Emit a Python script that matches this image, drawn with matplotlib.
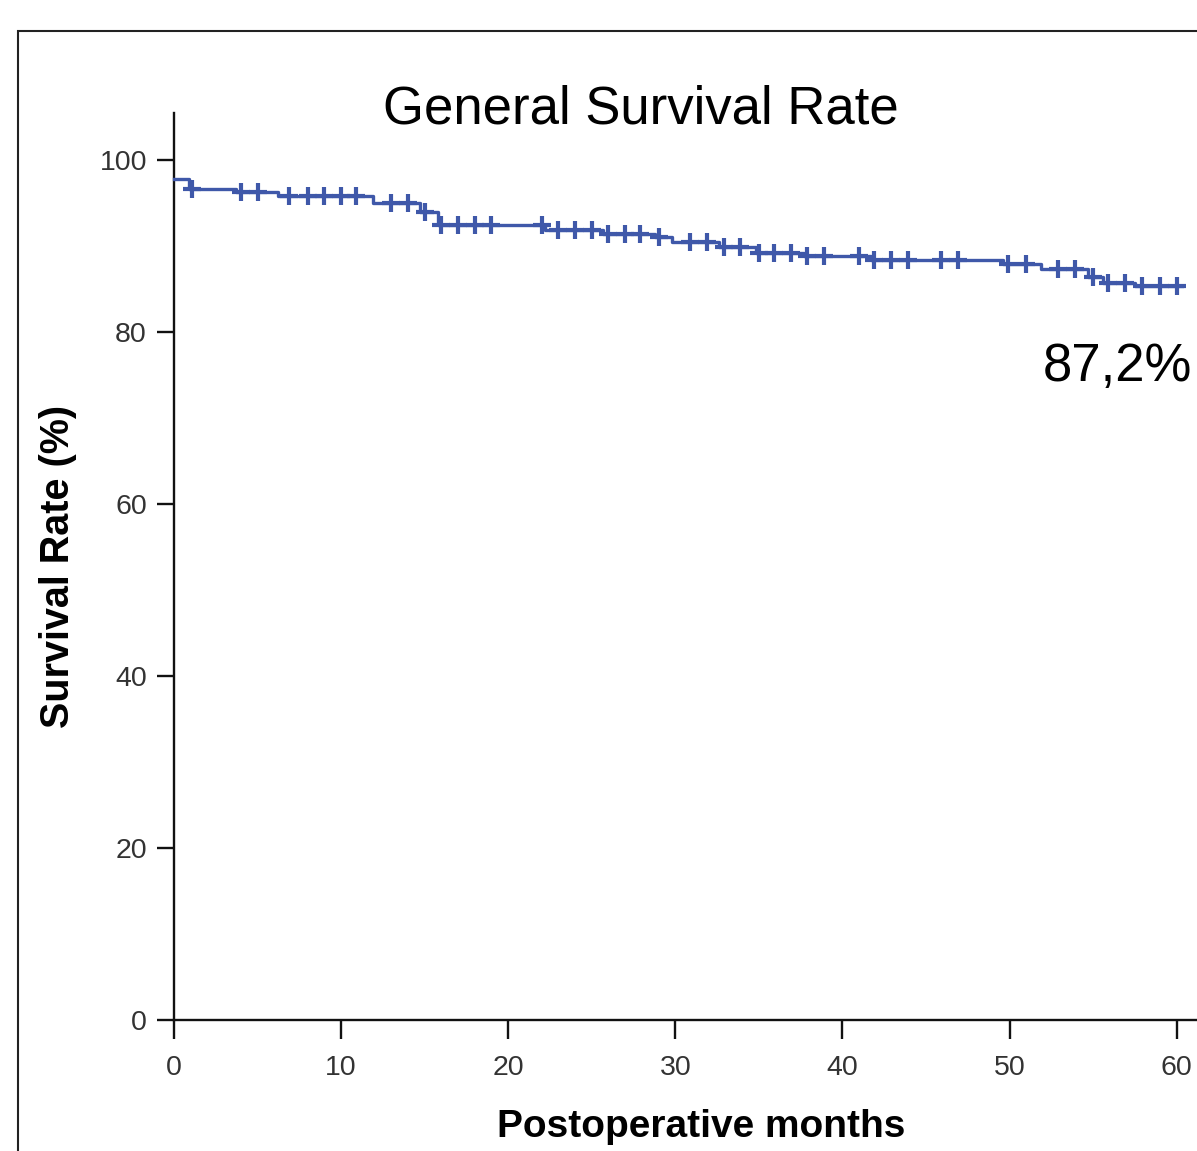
import matplotlib
matplotlib.use("Agg")
import matplotlib.pyplot as plt
from matplotlib.patches import Rectangle
import numpy as np

# Kaplan-Meier step levels
step_times = [0, 0.9, 3.7, 6.2, 11.9, 14.7, 15.8, 22.2, 25.7, 28.8, 29.8,
              32.6, 34.8, 37.7, 41.7, 49.6, 51.9, 54.7, 55.6, 57.5]
step_levels = [97.8, 96.6, 96.3, 95.8, 95.0, 94.0, 92.5, 91.9, 91.4, 91.0, 90.5,
               89.9, 89.2, 88.8, 88.4, 87.9, 87.3, 86.4, 85.7, 85.4]
end_time = 60.3
censor_times = [1.1, 4.0, 5.0, 6.9, 8.0, 9.0, 10.0, 10.9, 13.0, 14.0, 15.0,
                16.0, 17.0, 18.0, 19.0, 22.0, 23.0, 24.0, 25.0, 26.0, 27.0,
                27.9, 29.0, 30.9, 31.9, 32.9, 33.9, 35.0, 35.9, 36.9, 37.9,
                38.9, 41.0, 41.9, 42.9, 43.9, 45.9, 46.9, 49.9, 51.0, 52.9,
                53.9, 55.0, 55.9, 56.9, 57.9, 59.0, 60.0]
x_ticks = [0, 10, 20, 30, 40, 50, 60]
y_ticks = [0, 20, 40, 60, 80, 100]
final_label = "87,2%"

W, H = 1197, 1151
BLUE = "#3f58a9"

fig = plt.figure(figsize=(W / 100, H / 100), dpi=100)
fig.patch.set_facecolor("white")

# outer frame, cropped at right and bottom
fig.patches.append(Rectangle((18 / W, -0.5), 2, (1 - 31 / H) + 0.5,
                             transform=fig.transFigure, fill=False,
                             lw=1.5, ec="#222222"))

ax = fig.add_axes([174 / W, 1 - 1020 / H, (W - 174) / W, (1020 - 113) / H])
ax.set_xlim(0, (W - 174) / 16.71)
ax.set_ylim(0, (1020 - 113) / 8.6)

xs = np.array(step_times + [end_time])
ys = np.array(step_levels + [step_levels[-1]])
ax.step(xs, ys, where="post", color=BLUE, lw=2.4, clip_on=False, zorder=3)

# censor marks sit on the curve
idx = np.searchsorted(step_times, censor_times, side="right") - 1
cy = np.array(step_levels)[idx]
ax.plot(censor_times, cy, ls="none", marker="+", ms=12.5, mew=3.0,
        color=BLUE, clip_on=False, zorder=4)

for s in ["top", "right"]:
    ax.spines[s].set_visible(False)
for s in ["left", "bottom"]:
    ax.spines[s].set_linewidth(1.7)
    ax.spines[s].set_color("#111111")

ax.set_xticks(x_ticks)
ax.set_yticks(y_ticks)
ax.tick_params(axis="x", length=13.5, width=1.7, pad=12, labelsize=20.5,
               labelcolor="#333333", color="#111111")
ax.tick_params(axis="y", length=12.5, width=1.7, pad=7, labelsize=20.5,
               labelcolor="#333333", color="#111111")
for lab in ax.get_xticklabels() + ax.get_yticklabels():
    lab.set_family("Liberation Sans")

fig.text(641 / W, 1 - 123 / H, "General Survival Rate", ha="center",
         va="baseline", fontsize=38, family="Liberation Sans")
fig.text(1043 / W, 1 - 381 / H, final_label, ha="left", va="baseline",
         fontsize=38, family="Liberation Sans")
fig.text(701 / W, 1 - 1137 / H, "Postoperative months", ha="center",
         va="baseline", fontsize=28, fontweight="bold", family="Liberation Sans")
fig.text(58 / W, 1 - 566 / H, "Survival Rate (%)", ha="center", va="center",
         rotation=90, fontsize=28.5, fontweight="bold", family="Liberation Sans")

fig.savefig("out.png", dpi=100)
